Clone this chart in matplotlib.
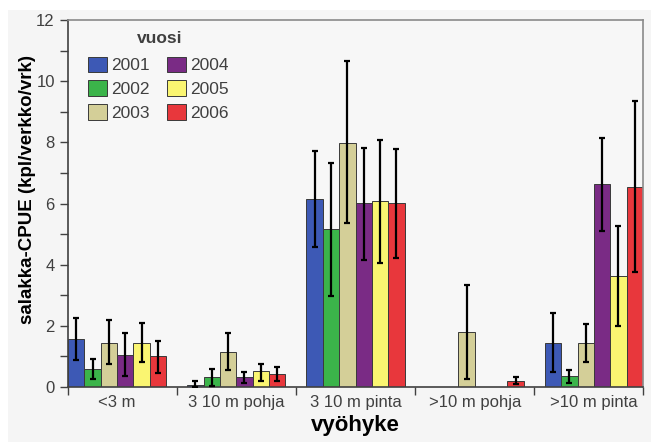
import matplotlib
matplotlib.use("Agg")
import matplotlib.pyplot as plt
import numpy as np
from matplotlib.patches import Rectangle
from matplotlib.ticker import FixedLocator

plt.rcParams["font.family"] = ["Liberation Sans", "DejaVu Sans"]

# mean CPUE per zone and year, with error-bar limits (kpl/verkko/vrk)
zones = ["<3 m", "3 10 m pohja", "3 10 m pinta", ">10 m pohja", ">10 m pinta"]
years = ["2001", "2002", "2003", "2004", "2005", "2006"]
colors = ["#3d59b5", "#3bb44a", "#d4cf98", "#7a2b85", "#faf571", "#e8373c"]

cpue = {
    "2001": [1.58, 0.08, 6.16, 0.0, 1.44],
    "2002": [0.58, 0.33, 5.15, 0.0, 0.36],
    "2003": [1.45, 1.13, 7.98, 1.80, 1.44],
    "2004": [1.03, 0.32, 6.02, 0.0, 6.64],
    "2005": [1.45, 0.51, 6.08, 0.0, 3.62],
    "2006": [1.00, 0.42, 6.01, 0.19, 6.54],
}
err_lo = {
    "2001": [0.87, 0.00, 4.58, 0.0, 0.49],
    "2002": [0.27, 0.03, 2.98, 0.0, 0.13],
    "2003": [0.74, 0.57, 5.35, 0.27, 0.82],
    "2004": [0.37, 0.14, 4.14, 0.0, 5.10],
    "2005": [0.82, 0.20, 4.07, 0.0, 2.00],
    "2006": [0.46, 0.18, 4.21, 0.09, 3.75],
}
err_hi = {
    "2001": [2.27, 0.18, 7.72, 0.0, 2.43],
    "2002": [0.93, 0.59, 7.34, 0.0, 0.57],
    "2003": [2.20, 1.75, 10.67, 3.35, 2.06],
    "2004": [1.75, 0.48, 7.83, 0.0, 8.15],
    "2005": [2.10, 0.76, 8.07, 0.0, 5.27],
    "2006": [1.50, 0.64, 7.77, 0.34, 9.34],
}
has_err = {
    "2001": [1, 1, 1, 0, 1],
    "2002": [1, 1, 1, 0, 1],
    "2003": [1, 1, 1, 1, 1],
    "2004": [1, 1, 1, 0, 1],
    "2005": [1, 1, 1, 0, 1],
    "2006": [1, 1, 1, 1, 1],
}

W, H = 651, 442
fig = plt.figure(figsize=(W / 100, H / 100), dpi=100, facecolor="white")
fig.patches.append(Rectangle((8 / W, 0), 1, 1 - 10 / H, transform=fig.transFigure,
                             facecolor="#f5f5f5", edgecolor="none", zorder=-10))
ax = fig.add_axes([68 / W, 1 - 387 / H, 575 / W, 367 / H])
ax.set_facecolor("#f7f7f7")

x = np.arange(len(zones))
w = 0.137
n = len(years)
for i, (yr, col) in enumerate(zip(years, colors)):
    pos = x + (i - (n - 1) / 2) * w
    vals = np.array(cpue[yr])
    ax.bar(pos, vals, w, color=col, edgecolor="#3a3a3a", linewidth=0.7,
           label=yr, zorder=2)
    m = np.array(has_err[yr], dtype=bool)
    lo = vals - np.array(err_lo[yr])
    hi = np.array(err_hi[yr]) - vals
    ax.errorbar(pos[m], vals[m], yerr=[lo[m], hi[m]], fmt="none",
                ecolor="black", elinewidth=1.6, capsize=2.5, capthick=1.6,
                zorder=3)

ax.set_xlim(-n / 2 * w, len(zones) - 1 + n / 2 * w)
ax.set_ylim(0, 12)
ax.set_yticks(np.arange(0, 13, 2))
ax.yaxis.set_minor_locator(FixedLocator(np.arange(1, 12, 2)))
ax.set_xticks(x)
ax.set_xticklabels(zones)
edges = [-n / 2 * w, 0.5, 1.5, 2.5, 3.5, len(zones) - 1 + n / 2 * w]
ax.xaxis.set_minor_locator(FixedLocator(edges))
ax.tick_params(axis="x", which="major", length=0, pad=6, labelsize=12,
               labelcolor="#404040")
ax.tick_params(axis="x", which="minor", length=6, width=1.0, color="#404040")
ax.tick_params(axis="y", which="major", length=6, width=1.0, color="#404040",
               labelsize=12, labelcolor="#404040")
ax.tick_params(axis="y", which="minor", length=6, width=1.0, color="#404040")

for s in ("left", "bottom"):
    ax.spines[s].set_color("#404040")
    ax.spines[s].set_linewidth(1.2)
for s in ("top", "right"):
    ax.spines[s].set_color("#8a8a8a")
    ax.spines[s].set_linewidth(1.2)

ax.set_ylabel("salakka-CPUE (kpl/verkko/vrk)", fontsize=13.5,
              fontweight="bold")
ax.yaxis.set_label_coords(-0.056, 0.537)
ax.set_xlabel("vyöhyke", fontsize=16, fontweight="bold", labelpad=3)

# legend title drawn on its own so it can sit a little higher above the rows
ax.text(0.16, 0.95, "vuosi", transform=ax.transAxes, ha="center", va="center",
        fontsize=12.5, fontweight="bold", color="#404040")
leg = ax.legend(loc="upper left", bbox_to_anchor=(0.013, 0.933), ncol=2,
                frameon=False, fontsize=12.5,
                handlelength=1.1, handleheight=1.0, handletextpad=0.25,
                labelspacing=0.4, columnspacing=1.0, borderpad=0.2)
for txt in leg.get_texts():
    txt.set_color("#404040")

fig.savefig("out.png", dpi=100, facecolor=fig.get_facecolor())
